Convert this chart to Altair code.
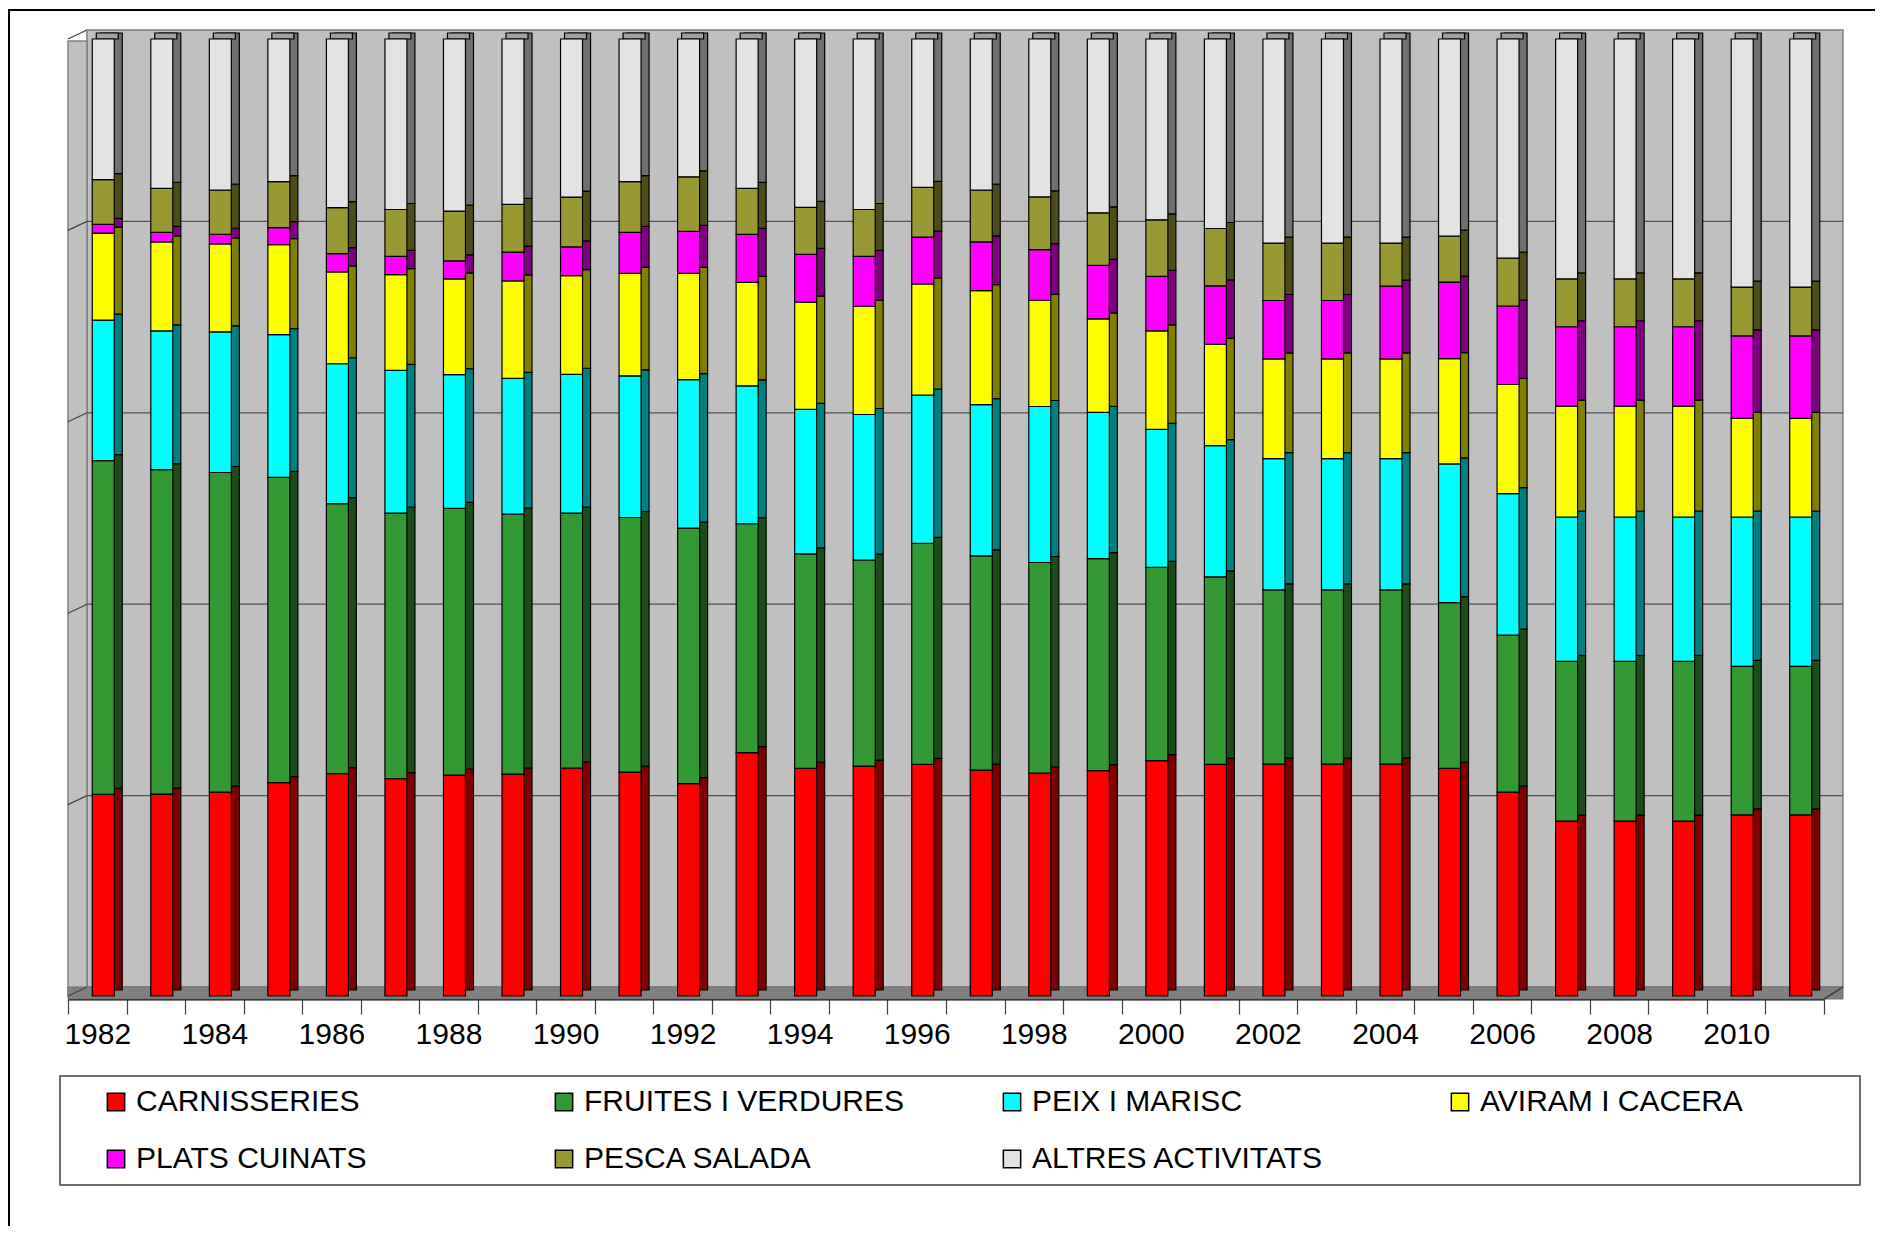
import altair as alt
import pandas as pd

years = ["1982", "1983", "1984", "1985", "1986", "1987", "1988", "1989", "1990", "1991",
         "1992", "1993", "1994", "1995", "1996", "1997", "1998", "1999", "2000", "2001",
         "2002", "2003", "2004", "2005", "2006", "2007", "2008", "2009", "2010", "2011"]

categories = ["CARNISSERIES", "FRUITES I VERDURES", "PEIX I MARISC", "AVIRAM I CACERA",
              "PLATS CUINATS", "PESCA SALADA", "ALTRES ACTIVITATS"]

carnisseries = [21.1, 21.1, 21.3, 22.3, 23.2, 22.7, 23.1, 23.2, 23.8, 23.4,
                22.2, 25.4, 23.8, 24.0, 24.2, 23.6, 23.3, 23.6, 24.6, 24.2,
                24.2, 24.2, 24.2, 23.8, 21.3, 18.3, 18.3, 18.3, 18.9, 18.9]
fruites = [34.9, 33.9, 33.4, 31.9, 28.2, 27.7, 27.9, 27.2, 26.6, 26.6,
           26.7, 23.9, 22.4, 21.5, 23.1, 22.4, 22.0, 22.2, 20.2, 19.6,
           18.2, 18.2, 18.2, 17.3, 16.4, 16.7, 16.7, 16.7, 15.5, 15.5]
peix = [14.7, 14.5, 14.7, 14.9, 14.6, 14.9, 14.0, 14.2, 14.5, 14.8,
        15.5, 14.4, 15.1, 15.2, 15.5, 15.8, 16.3, 15.3, 14.4, 13.7,
        13.7, 13.7, 13.7, 14.5, 14.8, 15.1, 15.1, 15.1, 15.6, 15.6]
aviram = [9.1, 9.3, 9.2, 9.4, 9.6, 10.0, 10.0, 10.2, 10.3, 10.7,
          11.1, 10.8, 11.2, 11.3, 11.6, 11.9, 11.1, 9.8, 10.3, 10.6,
          10.4, 10.4, 10.4, 11.0, 11.4, 11.6, 11.6, 11.6, 10.3, 10.3]
plats = [0.9, 1.0, 1.0, 1.8, 1.9, 1.9, 1.9, 3.0, 3.0, 4.3,
         4.4, 5.0, 5.0, 5.2, 4.9, 5.1, 5.3, 5.6, 5.7, 6.1,
         6.1, 6.1, 7.6, 8.0, 8.2, 8.3, 8.3, 8.3, 8.6, 8.6]
pesca = [4.7, 4.6, 4.6, 4.8, 4.8, 4.9, 5.2, 5.0, 5.2, 5.3,
         5.7, 4.8, 4.9, 4.9, 5.2, 5.4, 5.5, 5.5, 5.9, 6.0,
         6.0, 6.0, 4.5, 4.8, 5.0, 5.0, 5.0, 5.0, 5.1, 5.1]
altres = [14.7, 15.6, 15.8, 14.9, 17.6, 17.8, 18.0, 17.3, 16.5, 14.9,
          14.4, 15.6, 17.6, 17.8, 15.5, 15.8, 16.5, 18.2, 18.9, 19.8,
          21.3, 21.3, 21.3, 20.6, 22.9, 25.1, 25.1, 25.1, 25.9, 25.9]

front_colors = ["#FF0000", "#339933", "#00FFFF", "#FFFF00", "#FF00FF", "#999933", "#E3E3E3"]
side_colors = ["#800000", "#1A4D1A", "#008080", "#808000", "#800080", "#4D4D1A", "#707070"]

grid_values = [0.2, 0.4, 0.6, 0.8]
side_values = [0.0, 0.2, 0.4, 0.6, 0.8, 1.0]

series = [carnisseries, fruites, peix, aviram, plats, pesca, altres]
rows = []
for i, (cat, vals) in enumerate(zip(categories, series)):
    for y, v in zip(years, vals):
        rows.append({"year": y, "cat": cat, "val": v, "idx": i, "dark": side_colors[i]})
df = pd.DataFrame(rows)
tops = pd.DataFrame({"year": years, "top": [1.0] * len(years)})

FONT = "Liberation Sans"
FS = 30
yscale = alt.Scale(domain=[0, 1], nice=False, zero=True)
xscale = alt.Scale(paddingInner=0, paddingOuter=0)
one = alt.Data(values=[{}])

frame = alt.Chart(one).mark_rect(filled=False, stroke="black", strokeWidth=2).encode(
    x=alt.value(-59), x2=alt.value(1900), y=alt.value(-29), y2=alt.value(1300))

wall = alt.Chart(one).mark_rect(fill="#C0C0C0", stroke="#808080", strokeWidth=1.5).encode(
    x=alt.value(19), x2=alt.value(1775), y=alt.value(-9), y2=alt.value(948))

side_wall = alt.Chart(one).mark_rect(fill="#C0C0C0", stroke="#808080", strokeWidth=1.5).encode(
    x=alt.value(0), x2=alt.value(19), y=alt.value(2), y2=alt.value(957))

floor = alt.Chart(one).mark_rect(fill="#808080", stroke="#707070", strokeWidth=1).encode(
    x=alt.value(0), x2=alt.value(1775), y=alt.value(948), y2=alt.value(960))

grid_df = pd.DataFrame({"g": grid_values})
wall_grid = alt.Chart(grid_df).mark_rule(color="#505050", strokeWidth=1.2, yOffset=-9).encode(
    y=alt.Y("g:Q", scale=yscale, axis=None),
    x=alt.value(19), x2=alt.value(1775))

side_df = pd.DataFrame({"g": side_values})
side_grid = alt.Chart(side_df).mark_rule(color="#404040", strokeWidth=1.2, y2Offset=-9).encode(
    y=alt.Y("g:Q", scale=yscale, axis=None), y2="g:Q",
    x=alt.value(0), x2=alt.value(19))

x_enc = alt.X("year:O", scale=xscale, sort=years,
              axis=alt.Axis(title=None, domain=True, domainColor="black", domainWidth=2,
                            offset=3, ticks=True, tickColor="#404040", tickWidth=1.2,
                            tickSize=15, tickBand="extent", labelFontSize=FS,
                            labelFont=FONT, labelColor="black", labelAngle=0,
                            labelPadding=5, labelOverlap=False, grid=False,
                            labelExpr="parseInt(datum.value) % 2 == 0 ? datum.label : ''"))

side_bars = alt.Chart(df).mark_bar(width=22, xOffset=14, x2Offset=14, yOffset=-6, y2Offset=-6,
                                   stroke="black", strokeWidth=1.2).encode(
    x=x_enc,
    y=alt.Y("val:Q", stack="normalize", scale=yscale, axis=None),
    color=alt.Color("dark:N", scale=None),
    order=alt.Order("idx:Q", sort="ascending"))

top_caps = alt.Chart(tops).mark_bar(width=22, xOffset=10, x2Offset=10, y2Offset=-6,
                                    fill="#A0A0A0", stroke="black", strokeWidth=1.2).encode(
    x=x_enc,
    y=alt.Y("top:Q", scale=yscale, axis=None),
    y2="top:Q")

front_bars = alt.Chart(df).mark_bar(width=22, xOffset=6, x2Offset=6, stroke="black",
                                    strokeWidth=1.2, opacity=1).encode(
    x=x_enc,
    y=alt.Y("val:Q", stack="normalize", scale=yscale, axis=None),
    color=alt.Color("cat:N", sort=categories,
                    scale=alt.Scale(domain=categories, range=front_colors),
                    legend=alt.Legend(orient="none", legendX=33, legendY=1048,
                                      direction="horizontal", columns=4,
                                      columnPadding=92, rowPadding=27, gridAlign="all",
                                      symbolType="square", symbolSize=300,
                                      symbolStrokeColor="black", symbolStrokeWidth=1.5,
                                      symbolOpacity=1, labelFontSize=FS, labelFont=FONT,
                                      labelColor="black", labelOffset=5, labelLimit=500,
                                      title=None, padding=0)),
    order=alt.Order("idx:Q", sort="ascending"))

corner = alt.Chart(one).mark_rule(color="#404040", strokeWidth=1.5).encode(
    x=alt.value(1756), x2=alt.value(1775), y=alt.value(960), y2=alt.value(948))

legend_box = alt.Chart(one).mark_rect(filled=False, stroke="#404040", strokeWidth=1.5).encode(
    x=alt.value(-8), x2=alt.value(1792), y=alt.value(1037), y2=alt.value(1146))

chart = alt.layer(frame, wall, side_wall, floor, wall_grid, side_grid, side_bars, top_caps,
                  front_bars, corner, legend_box).properties(
    width=1756, height=957,
    padding={"left": 60, "top": 31, "right": 51, "bottom": 230},
    autosize="none",
    background="white",
).configure_view(stroke=None)

chart.save("out.html", embed_options={"renderer": "svg", "actions": False})
